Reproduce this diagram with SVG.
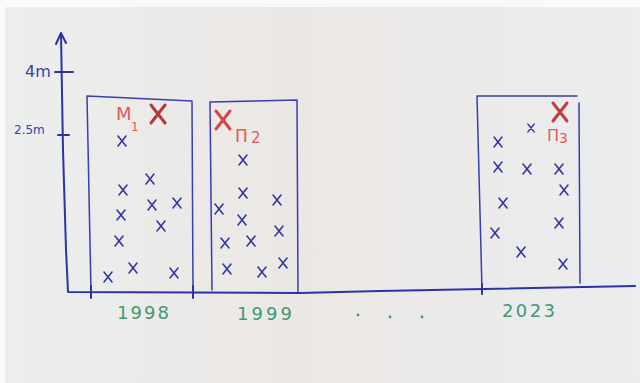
<svg xmlns="http://www.w3.org/2000/svg" width="640" height="383" viewBox="0 0 640 383">
  <defs>
    <linearGradient id="paper" x1="0" y1="0" x2="1" y2="0">
      <stop offset="0" stop-color="#eceeee"/>
      <stop offset="0.45" stop-color="#ebe7e4"/>
      <stop offset="1" stop-color="#ebedef"/>
    </linearGradient>
    <path id="x" d="M-4,-5 L4,5 M4,-5 L-4,5"/>
    <path id="xr" d="M-7,-9 L7,9 M7,-9 L-7,9"/>
  </defs>
  <style>
    .pen { fill: none; stroke: #3a3db3; stroke-width: 1.5; stroke-linecap: round; stroke-linejoin: round; }
    .axis { fill: none; stroke: #2f31a8; stroke-width: 2; stroke-linecap: round; stroke-linejoin: round; }
    .pt { fill: none; stroke: #3436a6; stroke-width: 1.6; stroke-linecap: round; }
    .big { fill: none; stroke: #b8383a; stroke-width: 3; stroke-linecap: round; }
    .red { fill: #e05a5c; font-family: "DejaVu Sans", sans-serif; }
    .ax { fill: #3a3db3; font-family: "DejaVu Sans", sans-serif; }
    .yr { fill: #3f9a70; font-family: "DejaVu Sans", sans-serif; font-size: 18px; }
  </style>
  <rect width="640" height="383" fill="#fafafa"/>
  <rect x="5" y="7" width="635" height="376" fill="url(#paper)"/>

  <g id="axes">
    <path class="axis" d="M61,34 L63,150 L66,250 L68,292 L300,293 L380,291 L635,286"/>
    <path class="axis" d="M56,44 L61,33 L66,43"/>
    <path class="axis" d="M55,72 L73,72"/>
    <path class="axis" d="M58,135 L69,135"/>
    <text class="ax" x="25" y="77" font-size="16">4m</text>
    <text class="ax" x="14" y="134" font-size="12">2.5m</text>
  </g>

  <g id="box1">
    <path class="pen" d="M91,292 L87,96 L192,101 L193,292"/>
    <path class="axis" d="M91,286 L91,298 M193,286 L193,298"/>
    <g class="pt">
      <use href="#x" x="122" y="141"/>
      <use href="#x" x="150" y="179"/>
      <use href="#x" x="123" y="190"/>
      <use href="#x" x="152" y="205"/>
      <use href="#x" x="177" y="203"/>
      <use href="#x" x="121" y="215"/>
      <use href="#x" x="161" y="226"/>
      <use href="#x" x="119" y="241"/>
      <use href="#x" x="133" y="268"/>
      <use href="#x" x="108" y="277"/>
      <use href="#x" x="174" y="273"/>
    </g>
    <use class="big" href="#xr" x="158" y="114"/>
    <text class="red" x="116" y="120" font-size="18">M</text>
    <text class="red" x="131" y="131" font-size="12">1</text>
  </g>

  <g id="box2">
    <path class="pen" d="M212,290 L210,102 L297,100 L298,292"/>
    <g class="pt">
      <use href="#x" x="243" y="160"/>
      <use href="#x" x="243" y="193"/>
      <use href="#x" x="277" y="200"/>
      <use href="#x" x="219" y="209"/>
      <use href="#x" x="242" y="220"/>
      <use href="#x" x="279" y="231"/>
      <use href="#x" x="225" y="243"/>
      <use href="#x" x="251" y="241"/>
      <use href="#x" x="227" y="269"/>
      <use href="#x" x="262" y="272"/>
      <use href="#x" x="283" y="263"/>
    </g>
    <use class="big" href="#xr" x="223" y="120" style="stroke:#d84446"/>
    <text class="red" x="235" y="142" font-size="17">Π</text>
    <text class="red" x="251" y="143" font-size="15">2</text>
  </g>

  <g id="box3">
    <path class="pen" d="M482,290 L477,96 L577,96"/>
    <path class="pen" d="M579,103 L580,283"/>
    <path class="axis" d="M482,284 L482,294"/>
    <g class="pt">
      <use href="#x" transform="translate(531 128) scale(0.8)"/>
      <use href="#x" x="498" y="142"/>
      <use href="#x" x="498" y="167"/>
      <use href="#x" x="527" y="169"/>
      <use href="#x" x="559" y="169"/>
      <use href="#x" x="564" y="190"/>
      <use href="#x" x="503" y="203"/>
      <use href="#x" x="559" y="223"/>
      <use href="#x" x="495" y="233"/>
      <use href="#x" x="521" y="252"/>
      <use href="#x" x="563" y="264"/>
    </g>
    <use class="big" href="#xr" x="560" y="112" style="stroke:#c23e3f"/>
    <text class="red" x="547" y="141" font-size="16">Π</text>
    <text class="red" x="559" y="143" font-size="14">3</text>
  </g>

  <g id="years">
    <text class="yr" x="117" y="319" textLength="52">1998</text>
    <text class="yr" x="237" y="320" textLength="55">1999</text>
    <circle cx="358" cy="315" r="1.4" fill="#3f9a70"/>
    <circle cx="390" cy="317" r="1.4" fill="#3f9a70"/>
    <circle cx="422" cy="317" r="1.4" fill="#3f9a70"/>
    <text class="yr" x="502" y="317" textLength="53">2023</text>
  </g>
</svg>
